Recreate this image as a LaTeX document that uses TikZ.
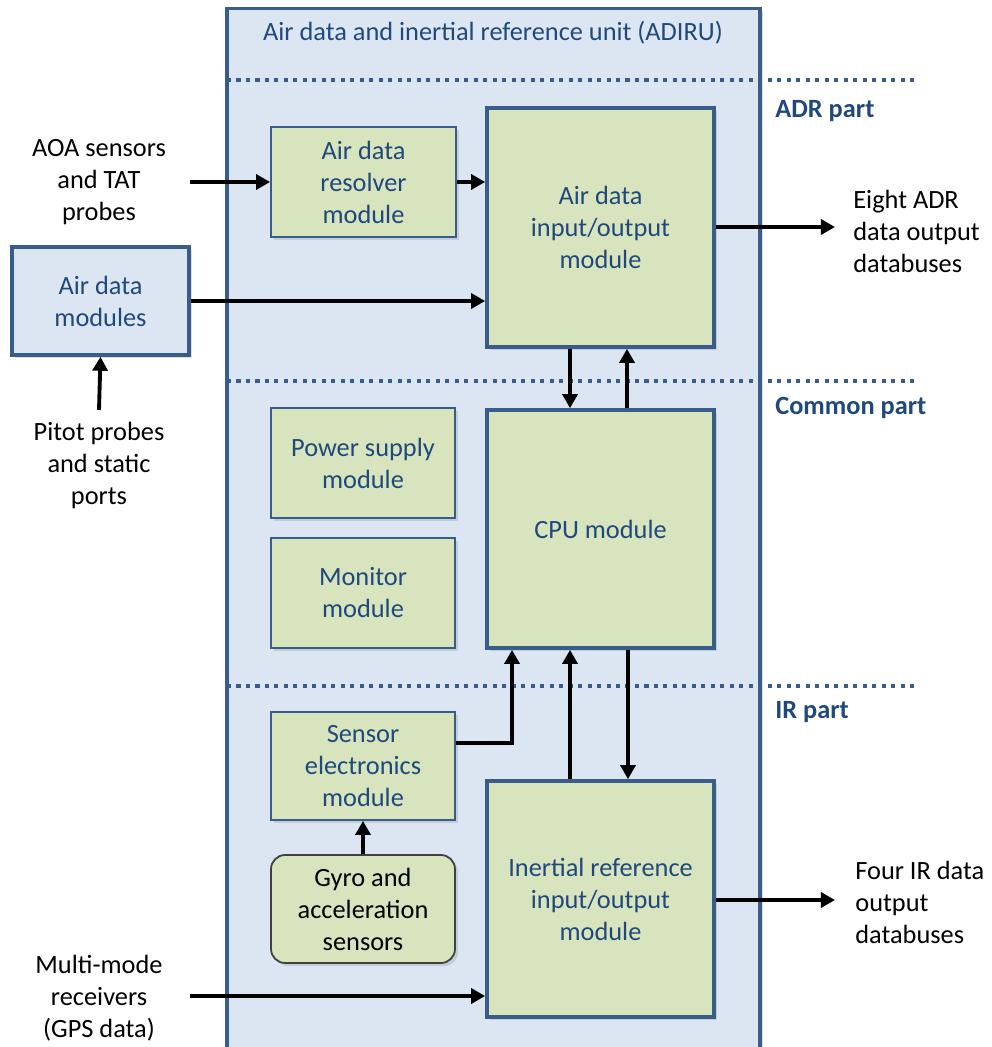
\documentclass[tikz,border=0pt]{standalone}
\usepackage{fontspec}
\setmainfont{Carlito}
\usetikzlibrary{arrows.meta,shadows}
\definecolor{adfill}{HTML}{DCE6F2}
\definecolor{adline}{HTML}{385D8A}
\definecolor{adtext}{HTML}{1F497D}
\definecolor{modfill}{HTML}{D7E4BD}
\tikzset{
  softshadow/.style={drop shadow={opacity=0.25,shadow xshift=1.8pt,shadow yshift=-1.8pt}},
  modbox/.style={draw=adline,fill=modfill,line width=1pt,text=adtext,align=center,
                 inner sep=0,softshadow},
  iobox/.style={modbox,line width=2.1pt},
  link/.style={line width=2.2pt,-{Triangle[length=8pt,width=8.5pt]}},
  partline/.style={adline,line width=2.2pt,dash pattern=on 2.3pt off 3.1pt},
  partlabel/.style={text=adtext,font=\fontsize{15}{18.2}\selectfont\bfseries,anchor=west,
                    inner sep=0}
}

\begin{document}
\begin{tikzpicture}[x=0.02cm,y=-0.02cm,font=\fontsize{15}{18.2}\selectfont]
  \useasboundingbox (0,0) rectangle (991,1047);

  % the unit
  \node[draw=adline,fill=adfill,line width=1.8pt,softshadow,minimum width=10.66cm,
        minimum height=21.24cm,inner sep=0] (adiru) at (493.5,539) {};
  \node[text=adtext] (title) at (493,33) {Air data and inertial reference unit (ADIRU)};

  % part separators
  \foreach \y in {80,381,686}
    \draw[partline] (227,\y) -- (918,\y);
  \node[partlabel] (adrpart) at (775,111) {ADR part};
  \node[partlabel] (compart) at (775,408) {Common part};
  \node[partlabel] (irpart) at (775,712) {IR part};

  % modules
  \node[modbox,minimum width=3.7cm,minimum height=2.2cm] (resolver) at (363.5,182)
        {Air data\\resolver\\module};
  \node[iobox,minimum width=4.54cm,minimum height=4.78cm] (adrio) at (600.5,227.5)
        {Air data\\input/output\\module};
  \node[modbox,fill=adfill,line width=2pt,minimum width=3.54cm,minimum height=2.16cm]
        (admod) at (100.5,301) {Air data\\modules};
  \node[modbox,minimum width=3.68cm,minimum height=2.2cm] (power) at (363,463)
        {Power supply\\module};
  \node[modbox,minimum width=3.68cm,minimum height=2.2cm] (monitor) at (363,593)
        {Monitor\\module};
  \node[iobox,minimum width=4.54cm,minimum height=4.76cm] (cpu) at (600.5,529)
        {CPU module};
  \node[modbox,minimum width=3.68cm,minimum height=2.16cm] (sensel) at (363,766)
        {Sensor\\electronics\\module};
  \node[modbox,draw=black!75,text=black,rounded corners=8pt,minimum width=3.68cm,
        minimum height=2.16cm] (gyro) at (363,909) {Gyro and\\acceleration\\sensors};
  \node[iobox,minimum width=4.54cm,minimum height=4.72cm] (irio) at (600.5,899)
        {Inertial reference\\input/output\\module};

  % outside texts
  \node[align=center] (aoa) at (99,182) {AOA sensors\\and TAT\\probes};
  \node[align=center] (pitot) at (99,465) {Pitot probes\\and static\\ports};
  \node[align=center] (gps) at (99,998) {Multi-mode\\receivers\\(GPS data)};
  \node[align=left,anchor=west,inner sep=0] (adrout) at (853,231)
        {Eight ADR\\data output\\databuses};
  \node[align=left,anchor=west,inner sep=0] (irout) at (855,902)
        {Four IR data\\output\\databuses};
  \coordinate (aoain) at (190,182);
  \coordinate (pitotin) at (99,410);
  \coordinate (gpsin) at (190,996);
  \coordinate (adrend) at (835,227);
  \coordinate (irend) at (835,900);

  % connectors
  \draw[link] (aoain) -- (resolver.west);
  \draw[link] (resolver.east) -- (resolver.east -| adrio.west);
  \draw[link] (admod.east) -- (admod.east -| adrio.west);
  \draw[link] (pitotin) -- (admod.south);
  \draw[link] (adrio.east |- adrend) -- (adrend);
  \draw[link] ([xshift=-0.61cm]adrio.south) -- ([xshift=-0.61cm]cpu.north);
  \draw[link] ([xshift=0.53cm]cpu.north) -- ([xshift=0.53cm]adrio.south);
  \draw[link] ([yshift=0.46cm]sensel.east) -| ([xshift=-1.77cm]cpu.south);
  \draw[link] ([xshift=-0.61cm]irio.north) -- ([xshift=-0.61cm]cpu.south);
  \draw[link] ([xshift=0.55cm]cpu.south) -- ([xshift=0.55cm]irio.north);
  \draw[link] (gyro.north) -- (sensel.south);
  \draw[link] (irio.east |- irend) -- (irend);
  \draw[link] (gpsin) -- (gpsin -| irio.west);
\end{tikzpicture}
\end{document}
